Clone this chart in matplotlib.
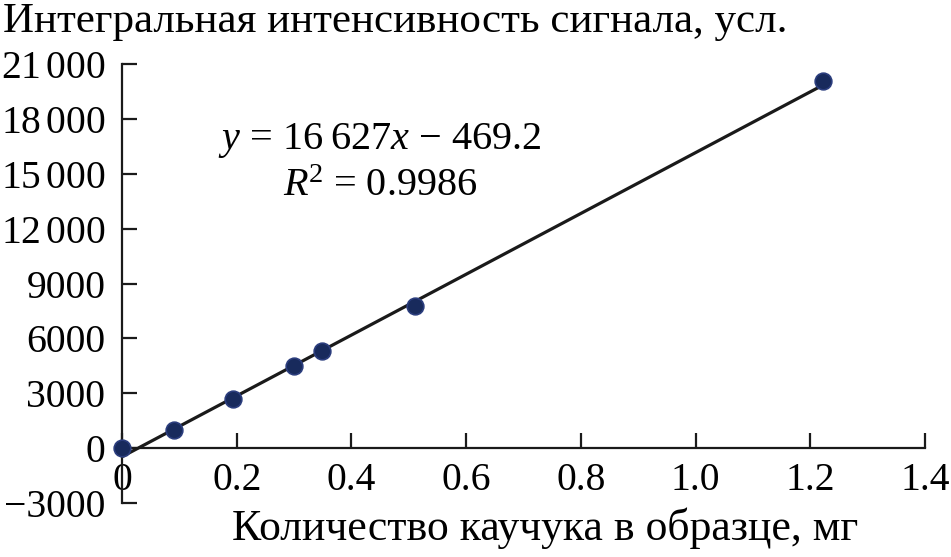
import matplotlib
matplotlib.use("Agg")
import numpy as np
import matplotlib.pyplot as plt

plt.rcParams['font.family'] = ['Liberation Serif', 'DejaVu Serif']
plt.rcParams['mathtext.fontset'] = 'custom'
plt.rcParams['mathtext.rm'] = 'Liberation Serif'
plt.rcParams['mathtext.it'] = 'Liberation Serif:italic'

# Данные
mass_mg = [0.0, 0.09, 0.194, 0.30, 0.349, 0.511, 1.222]
intensity = [0, 1000, 2700, 4500, 5330, 7750, 20070]
slope, intercept = 16627, -469.2
fit_x = [0.0, 1.222]

y_ticks = [-3000, 0, 3000, 6000, 9000, 12000, 15000, 18000, 21000]
y_labels = ["\u22123000", "0", "3000", "6000", "9000",
            r"$12\,000$", r"$15\,000$", r"$18\,000$", r"$21\,000$"]
x_ticks = [0, 0.2, 0.4, 0.6, 0.8, 1.0, 1.2, 1.4]
x_labels = ["0", "0.2", "0.4", "0.6", "0.8", "1.0", "1.2", "1.4"]

fig = plt.figure(figsize=(9.51, 5.57), dpi=100)
ax = fig.add_axes([0.1283, 0.097, 0.9727 - 0.1283, 0.885 - 0.097])

fx = np.array(fit_x)
ax.plot(fx, slope * fx + intercept, color="#1a1a1a", lw=2.3, zorder=2)
ax.plot(mass_mg, intensity, "o", ms=12, mfc="#182a5c", mec="#2b3d7d",
        mew=1.2, zorder=3, clip_on=False)

ax.set_xlim(0, 1.4)
ax.set_ylim(-3000, 21000)
ax.spines['top'].set_visible(False)
ax.spines['right'].set_visible(False)
ax.spines['bottom'].set_position(('data', 0))
for s in ['left', 'bottom']:
    ax.spines[s].set_linewidth(1.6)
    ax.spines[s].set_color("#1a1a1a")

ax.set_yticks(y_ticks)
ax.set_yticklabels(y_labels)
ax.set_xticks(x_ticks)
ax.set_xticklabels(x_labels)
ax.tick_params(axis='both', direction='in', length=11, width=1.6,
               labelsize=28.5, color="#1a1a1a")
ax.tick_params(axis='y', pad=12)
ax.tick_params(axis='x', pad=10)

ax.text(380 / 951, 1 - 140 / 557, "$y$ = 16\u2009627$x$ \u2212 469.2",
        transform=fig.transFigure, ha="center", va="center", fontsize=29)
ax.text(380 / 951, 1 - 187 / 557, "$R$$^2$ = 0.9986",
        transform=fig.transFigure, ha="center", va="center", fontsize=29)

fig.text(0.003, 1 - 22 / 557, "Интегральная интенсивность сигнала, усл.",
         ha="left", va="center", fontsize=31)
fig.text(545 / 951, 1 - 528 / 557, "Количество каучука в образце, мг",
         ha="center", va="center", fontsize=31.5)

fig.savefig("out.png", dpi=100)
